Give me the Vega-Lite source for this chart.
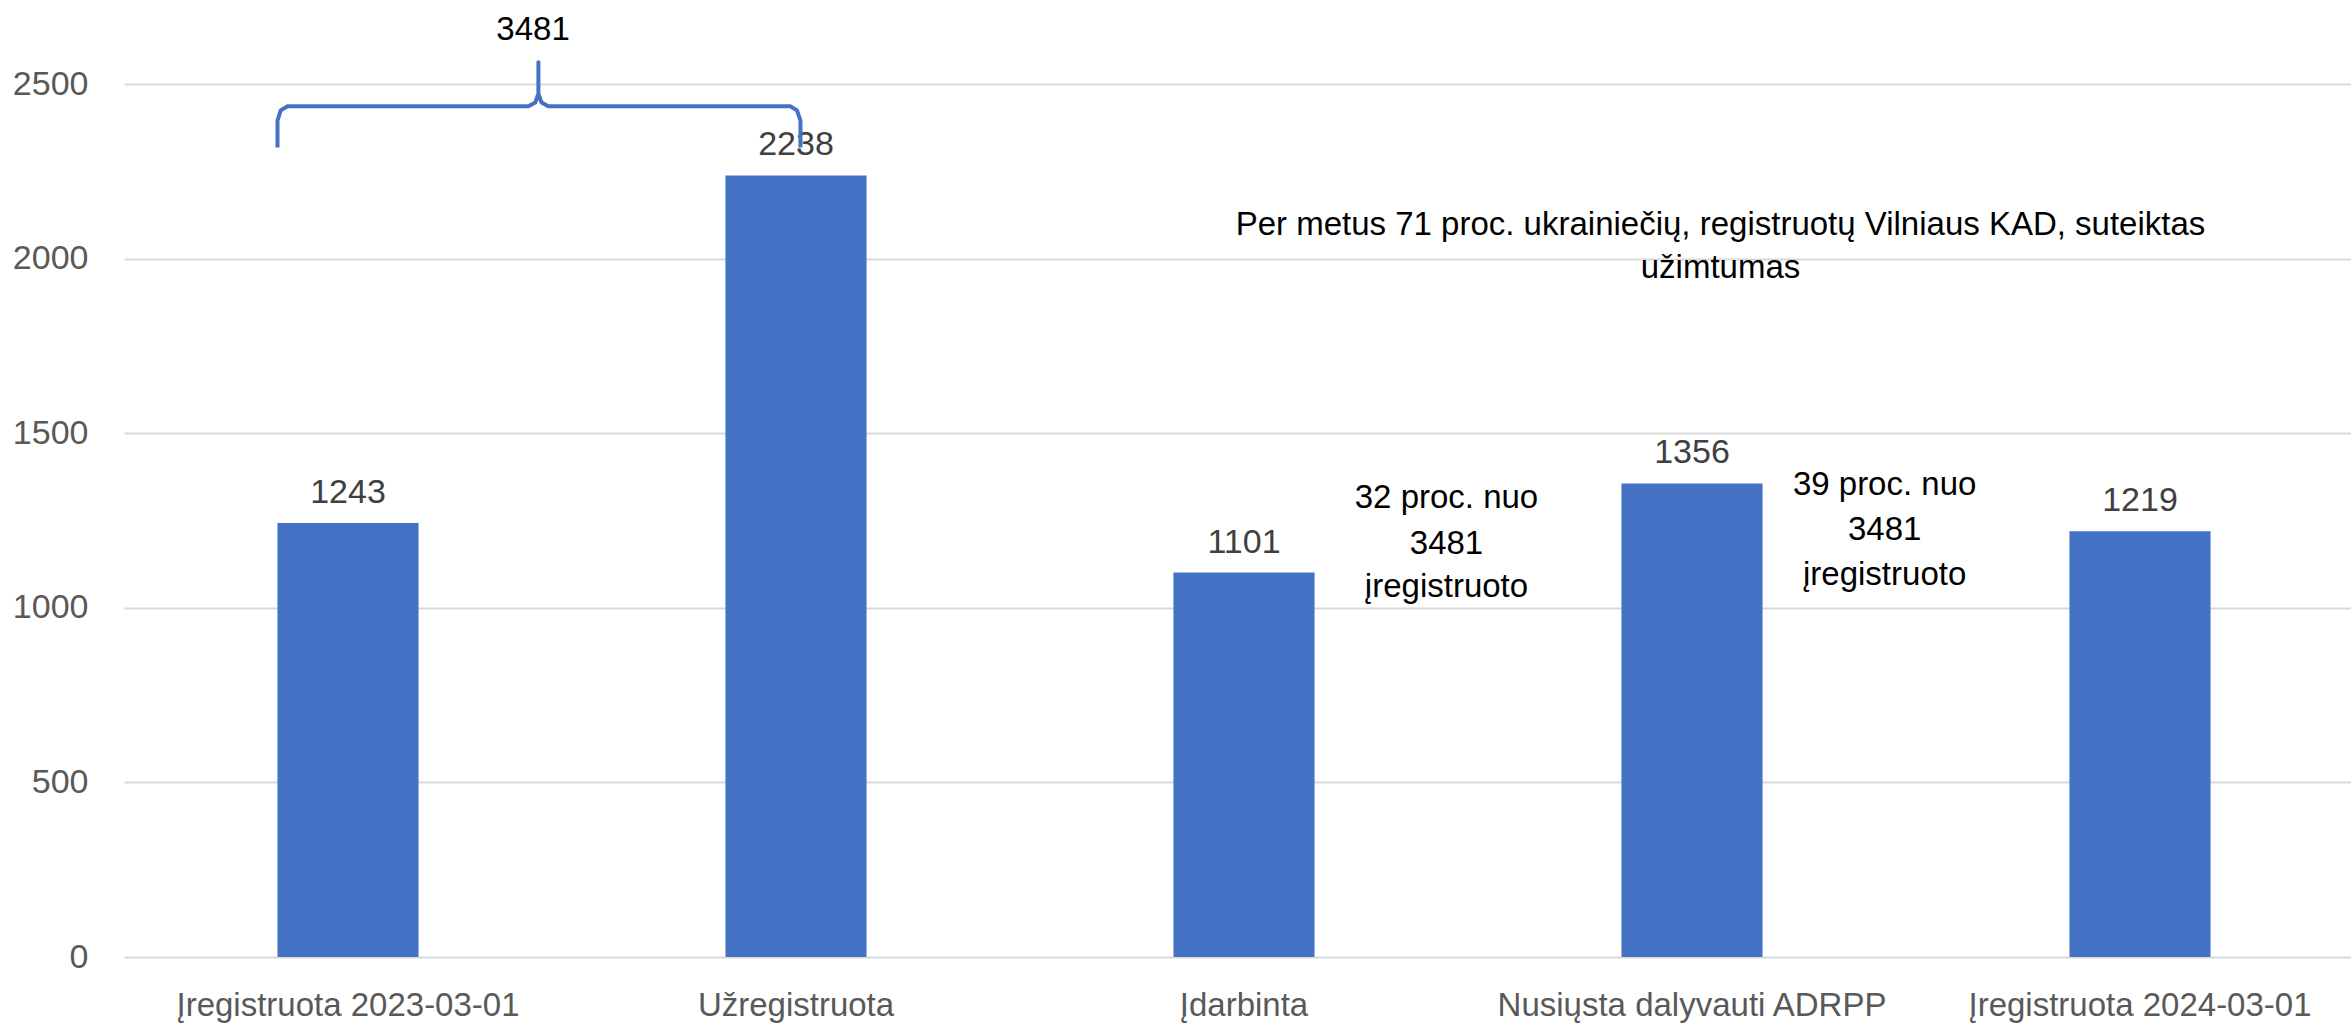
{
  "$schema": "https://vega.github.io/schema/vega-lite/v6.json",
  "autosize": "none",
  "width": 2227,
  "height": 873,
  "padding": {"left": 124, "top": 84, "right": 0, "bottom": 67},
  "background": "white",
  "config": {"view": {"stroke": null}, "font": "Liberation Sans"},
  "datasets": {
    "bars": [
      {"category": "Įregistruota 2023-03-01", "value": 1243},
      {"category": "Užregistruota", "value": 2238},
      {"category": "Įdarbinta", "value": 1101},
      {"category": "Nusiųsta dalyvauti ADRPP", "value": 1356},
      {"category": "Įregistruota 2024-03-01", "value": 1219}
    ],
    "notes": [
      {"xpos": 3.5636, "ypos": 2067, "text": "Per metus 71 proc. ukrainiečių, registruotų Vilniaus KAD, suteiktas"},
      {"xpos": 3.5636, "ypos": 1944, "text": "užimtumas"},
      {"xpos": 2.952, "ypos": 1285, "text": "32 proc. nuo"},
      {"xpos": 2.952, "ypos": 1154, "text": "3481"},
      {"xpos": 2.952, "ypos": 1030, "text": "įregistruoto"},
      {"xpos": 3.93, "ypos": 1322, "text": "39 proc. nuo"},
      {"xpos": 3.93, "ypos": 1194, "text": "3481"},
      {"xpos": 3.93, "ypos": 1065, "text": "įregistruoto"},
      {"xpos": 0.913, "ypos": 2625, "text": "3481"}
    ],
    "brace": [
      {"o": 1, "xpos": 0.3426, "ypos": 2318},
      {"o": 2, "xpos": 0.3426, "ypos": 2395},
      {"o": 3, "xpos": 0.350, "ypos": 2425},
      {"o": 4, "xpos": 0.365, "ypos": 2436},
      {"o": 5, "xpos": 0.903, "ypos": 2436},
      {"o": 6, "xpos": 0.918, "ypos": 2447},
      {"o": 7, "xpos": 0.925, "ypos": 2472},
      {"o": 8, "xpos": 0.925, "ypos": 2562},
      {"o": 9, "xpos": 0.925, "ypos": 2472},
      {"o": 10, "xpos": 0.932, "ypos": 2447},
      {"o": 11, "xpos": 0.947, "ypos": 2436},
      {"o": 12, "xpos": 1.487, "ypos": 2436},
      {"o": 13, "xpos": 1.502, "ypos": 2425},
      {"o": 14, "xpos": 1.510, "ypos": 2395},
      {"o": 15, "xpos": 1.510, "ypos": 2318}
    ]
  },
  "layer": [
    {
      "data": {"name": "bars"},
      "mark": {"type": "bar", "color": "#4472C4"},
      "encoding": {
        "x": {
          "field": "category", "type": "nominal", "sort": null,
          "scale": {"range": [0, 2240], "paddingInner": 0.685, "paddingOuter": 0.3425},
          "axis": {"title": null, "labelAngle": 0, "labelFontSize": 33, "labelColor": "#595959", "labelPadding": 32, "labelLimit": 0, "ticks": false, "domain": false, "grid": false}
        },
        "y": {
          "field": "value", "type": "quantitative",
          "scale": {"domain": [0, 2500], "nice": false, "zero": true},
          "axis": {"title": null, "values": [0, 500, 1000, 1500, 2000, 2500], "format": "d", "labelFontSize": 34, "labelColor": "#595959", "labelPadding": 36, "ticks": false, "domain": false, "gridColor": "#D9D9D9", "gridWidth": 2}
        }
      }
    },
    {
      "data": {"name": "bars"},
      "mark": {"type": "text", "fontSize": 34, "color": "#404040", "baseline": "alphabetic", "align": "center", "dy": -20},
      "encoding": {
        "x": {"field": "category", "type": "nominal", "sort": null, "scale": {"range": [0, 2240], "paddingInner": 0.685, "paddingOuter": 0.3425}, "axis": null},
        "y": {"field": "value", "type": "quantitative", "scale": {"domain": [0, 2500], "nice": false}},
        "text": {"field": "value", "type": "quantitative", "format": "d"}
      }
    },
    {
      "data": {"name": "notes"},
      "mark": {"type": "text", "fontSize": 33, "color": "#000000", "baseline": "alphabetic", "align": "center"},
      "encoding": {
        "x": {"field": "xpos", "type": "quantitative", "scale": {"domain": [0, 5], "range": [0, 2240], "nice": false, "zero": false}, "axis": null},
        "y": {"field": "ypos", "type": "quantitative", "scale": {"domain": [0, 2500], "nice": false}},
        "text": {"field": "text", "type": "nominal"}
      }
    },
    {
      "data": {"name": "brace"},
      "mark": {"type": "line", "color": "#4472C4", "strokeWidth": 4, "strokeJoin": "round"},
      "encoding": {
        "x": {"field": "xpos", "type": "quantitative", "scale": {"domain": [0, 5], "range": [0, 2240], "nice": false, "zero": false}, "axis": null},
        "y": {"field": "ypos", "type": "quantitative", "scale": {"domain": [0, 2500], "nice": false}},
        "order": {"field": "o", "type": "quantitative"}
      }
    }
  ],
  "resolve": {"scale": {"x": "independent"}}
}
